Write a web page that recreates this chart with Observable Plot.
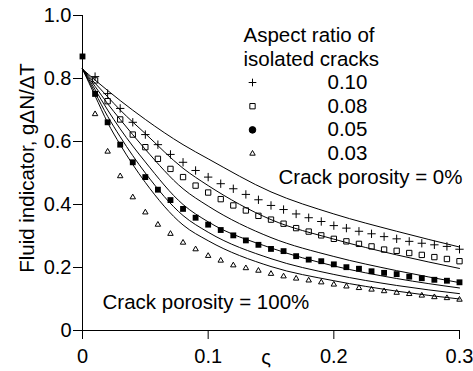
<!DOCTYPE html>
<html><head><meta charset="utf-8">
<script src="https://cdn.jsdelivr.net/npm/d3@7"></script>
<script src="https://cdn.jsdelivr.net/npm/@observablehq/plot@0.6"></script>
<style>
html,body{margin:0;padding:0;background:#fff;}
#chart svg{display:block;}
</style></head><body><div id="chart"></div>
<script>
// Marker abscissae (ς)
const markerX = [0.01,0.02,0.03,0.04,0.05,0.06,0.07,0.08,0.09,0.10,0.11,0.12,0.13,0.14,0.15,0.16,0.17,0.18,0.19,0.20,0.21,0.22,0.23,0.24,0.25,0.26,0.27,0.28,0.29,0.30];
// Aspect ratio 0.10 (+)
const plusY = [0.806,0.752,0.705,0.661,0.622,0.590,0.559,0.534,0.508,0.487,0.466,0.450,0.432,0.415,0.397,0.384,0.370,0.358,0.346,0.333,0.325,0.315,0.307,0.298,0.291,0.283,0.277,0.272,0.267,0.258];
// Aspect ratio 0.08 (open square)
const squareY = [0.794,0.728,0.670,0.622,0.582,0.545,0.513,0.487,0.460,0.438,0.417,0.397,0.381,0.364,0.352,0.339,0.325,0.314,0.302,0.291,0.283,0.275,0.267,0.257,0.253,0.246,0.240,0.233,0.227,0.220];
// Aspect ratio 0.05 (filled)
const filledY = [0.751,0.661,0.590,0.534,0.487,0.447,0.414,0.386,0.358,0.336,0.319,0.302,0.286,0.272,0.259,0.252,0.236,0.225,0.220,0.210,0.201,0.196,0.188,0.183,0.179,0.171,0.166,0.161,0.158,0.153];
// Aspect ratio 0.03 (open triangle)
const triangleY = [0.687,0.568,0.490,0.423,0.375,0.336,0.307,0.279,0.258,0.237,0.222,0.207,0.198,0.190,0.180,0.172,0.165,0.159,0.153,0.146,0.140,0.135,0.130,0.125,0.120,0.116,0.111,0.106,0.103,0.098];
// Point at ς = 0
const startX = [0];
const startY = [0.87];

// Model curves, crack porosity from 0% (top) to 100% (bottom)
const curveX = [0,0.01,0.02,0.03,0.05,0.08,0.10,0.15,0.20,0.25,0.30];
const curve0   = [0.83,0.795,0.762,0.730,0.670,0.590,0.545,0.440,0.370,0.315,0.265];
const curve20  = [0.83,0.785,0.742,0.700,0.625,0.515,0.460,0.352,0.290,0.240,0.197];
const curve40  = [0.83,0.775,0.720,0.670,0.575,0.450,0.395,0.295,0.235,0.190,0.152];
const curve60  = [0.83,0.765,0.700,0.640,0.535,0.400,0.345,0.262,0.205,0.165,0.135];
const curve80  = [0.83,0.755,0.680,0.615,0.500,0.365,0.312,0.228,0.178,0.143,0.117];
const curve100 = [0.83,0.745,0.660,0.590,0.470,0.335,0.285,0.203,0.158,0.125,0.100];
const curveNames = ["0%","20%","40%","60%","80%","100%"];

const legendTitle = ["Aspect ratio of","isolated cracks"];
const legendLabels = ["0.10","0.08","0.05","0.03"];
const legendSymbols = ["plus","square2","circle","triangle2"];
const annotationTop = "Crack porosity = 0%";
const annotationBottom = "Crack porosity = 100%";
const xTicks = [0,0.1,0.2,0.3];
const yTicks = [0,0.2,0.4,0.6,0.8,1.0];
const xLabel = "ς";
const yLabel = "Fluid indicator, gΔN/ΔT";

const curves = [curve0,curve20,curve40,curve60,curve80,curve100];
const lineData = curves.flatMap((c,i)=>curveX.map((x,j)=>({x, y:c[j], s:curveNames[i]})));
const pts = ys => markerX.map((x,i)=>({x, y:ys[i]}));
const fmt = d => d === 0 ? "0" : d.toFixed(1);

const FS = 20;
const FL = 20.5;
const legendFill = ["none","none","#000","none"];
const legendR = [2.6,3.4,3.3,2.6];
const T = {frameAnchor:"top-left", textAnchor:"start", lineAnchor:"middle", fontSize:FL};

const chart = Plot.plot({
  width: 473, height: 371,
  marginLeft: 82, marginRight: 14, marginTop: 15, marginBottom: 41,
  x: {domain: [0,0.3]},
  y: {domain: [0,1]},
  style: {fontFamily: "'Liberation Sans', Arial, sans-serif", fontSize: FS+"px", color: "#000", background: "#fff"},
  marks: [
    Plot.line(lineData, {x:"x", y:"y", z:"s", curve:"monotone-x", stroke:"#000", strokeWidth:1}),
    Plot.dot(pts(plusY), {x:"x", y:"y", symbol:"plus", r:2.8, stroke:"#000", strokeWidth:1}),
    Plot.dot(pts(squareY), {x:"x", y:"y", symbol:"square2", r:3.4, stroke:"#000", strokeWidth:1}),
    Plot.dot(pts(filledY), {x:"x", y:"y", symbol:"square", r:3.3, fill:"#000"}),
    Plot.dot(pts(triangleY), {x:"x", y:"y", symbol:"triangle2", r:2.6, stroke:"#000", strokeWidth:1}),
    Plot.dot(startX.map((x,i)=>({x, y:startY[i]})), {x:"x", y:"y", symbol:"square", r:3.3, fill:"#000"}),
    Plot.ruleX([0], {stroke:"#000"}),
    Plot.ruleY([0], {stroke:"#000"}),
    Plot.axisX({ticks: xTicks, tickFormat: fmt, tickSize: 9, tickPadding: 9, fontSize: FS, label: null}),
    Plot.axisY({ticks: yTicks, tickFormat: fmt, tickSize: 9, tickPadding: 2, fontSize: FS, label: null}),
    Plot.text([yLabel], {frameAnchor:"left", textAnchor:"middle", lineAnchor:"middle", rotate:-90, dx:-55, dy:-5, fontSize:FL}),
    Plot.text([xLabel], {frameAnchor:"bottom", textAnchor:"middle", lineAnchor:"middle", dx:-5, dy:27, fontSize:FS}),
    ...legendTitle.map((t,i)=>Plot.text([t], {...T, dx:161, dy:20+i*24})),
    ...legendLabels.map((t,i)=>Plot.text([t], {...T, dx:245, dy:67+i*23.5})),
    ...legendSymbols.map((s,i)=>Plot.dot([legendLabels[i]], {frameAnchor:"top-left", dx:170, dy:67+i*23.7, symbol:s, r:legendR[i], fill:legendFill[i], stroke:"#000", strokeWidth:1})),
    Plot.text([annotationTop], {...T, dx:196, dy:162}),
    Plot.text([annotationBottom], {...T, dx:20, dy:287})
  ]
});
document.getElementById("chart").appendChild(chart);
</script></body></html>
